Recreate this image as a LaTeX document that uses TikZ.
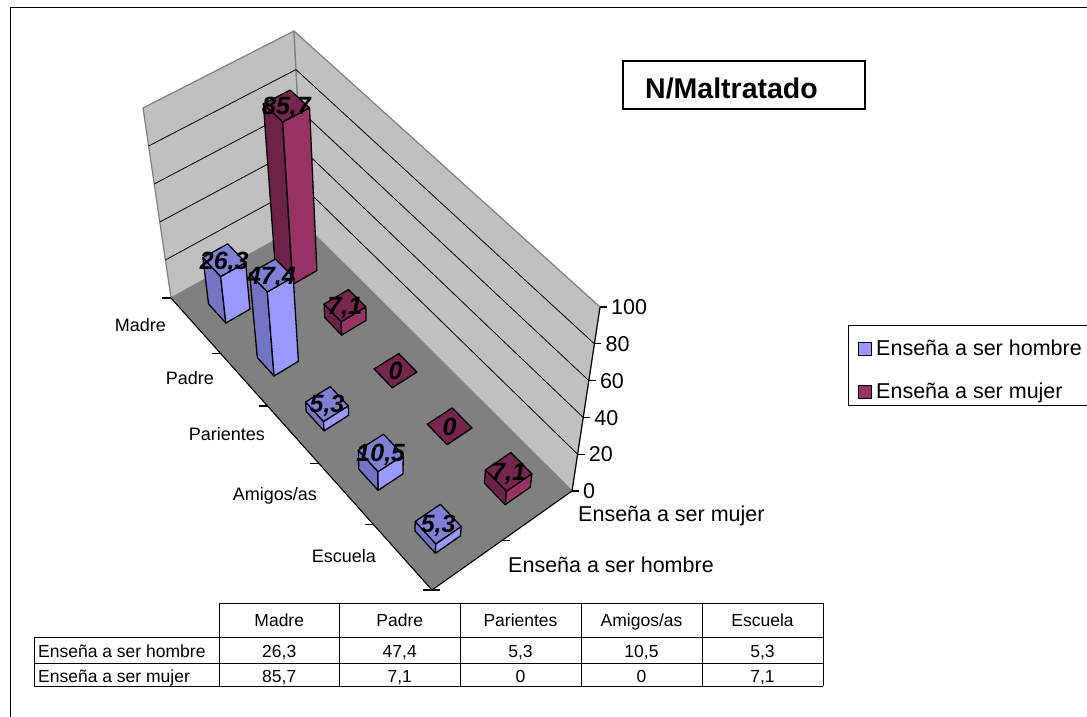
\documentclass[tikz,border=0pt]{standalone}
\usepackage{fontspec}
\setmainfont{Liberation Sans}
\usetikzlibrary{calc}
\definecolor{wallc}{RGB}{192,192,192}
\definecolor{floorc}{RGB}{128,128,128}
\definecolor{edgec}{RGB}{128,128,128}
\definecolor{hR}{HTML}{9999FF}
\definecolor{hT}{HTML}{8080D6}
\definecolor{hL}{HTML}{7474C4}
\definecolor{mR}{HTML}{993366}
\definecolor{mT}{HTML}{76254F}
\definecolor{mL}{HTML}{6E2149}
\newcommand\axfont{\fontsize{21.5}{24}\selectfont}
\newcommand\catfont{\fontsize{18}{21}\selectfont}
\newcommand\tabfont{\fontsize{17.5}{20}\selectfont}
\newcommand\valfont{\fontsize{25}{28}\selectfont\bfseries\itshape}
\newcommand\fpt[3]{%
  \coordinate (fpA) at ($(L)!#2!(Bt)$);
  \coordinate (fpB) at ($(K)!#2!(R)$);
  \coordinate (#1) at ($(fpA)!#3!(fpB)$);
}
\newcommand\drawbox[7]{%
  \pgfmathsetmacro\ua{#1-#2}\pgfmathsetmacro\ub{#1+#2}%
  \pgfmathsetmacro\va{#3-0.09}\pgfmathsetmacro\vb{#3+0.09}%
  \fpt{bl}{\ua}{\va}
  \fpt{bf}{\ub}{\va}
  \fpt{br}{\ub}{\vb}
  \fpt{bk}{\ua}{\vb}
  \coordinate (tl) at ($(bl)!-#4pt!(VP)$);
  \coordinate (tf) at ($(bf)!-#4pt!(VP)$);
  \coordinate (tr) at ($(br)!-#4pt!(VP)$);
  \coordinate (tk) at ($(bk)!-#4pt!(VP)$);
  \filldraw[barline, fill=#5L] (bl)--(bf)--(tf)--(tl)--cycle;
  \filldraw[barline, fill=#5R] (bf)--(br)--(tr)--(tf)--cycle;
  \filldraw[barline, fill=#5T] (tl)--(tf)--(tr)--(tk)--cycle;
  \coordinate (#7) at ($(tl)!0.5!(tr)$);
}
\tikzset{
  barline/.style={draw=black, line width=1.3pt, line join=round},
  walledge/.style={draw=edgec, line width=1.2pt},
  gridln/.style={draw=black, line width=0.8pt},
  axisln/.style={draw=black, line width=1.1pt},
  tabln/.style={draw=black, line width=0.9pt},
  vallab/.style={font=\valfont, inner sep=0pt, text height=18pt, text depth=0pt},
  catlab/.style={font=\catfont, anchor=base east, inner sep=0pt},
  axlab/.style={font=\axfont, anchor=base west, inner sep=0pt},
  tabtxt/.style={font=\tabfont, inner sep=0pt, text height=13pt, text depth=4pt}
}
\begin{document}
\begin{tikzpicture}[x=1pt,y=-1pt]
\useasboundingbox (0,0) rectangle (1087,717);
\fill[white] (0,0) rectangle (1087,717);
% outer frame
\draw[line width=1pt] (10,717) -- (10,8) -- (1087,8);
% key points
\coordinate (L) at (171,298);
\coordinate (Bt) at (432,590);
\coordinate (R) at (572,491);
\coordinate (K) at (304,224);
\coordinate (LT) at (143,108);
\coordinate (KT) at (294,31);
\coordinate (RT) at (600,307);
\coordinate (VP) at (383,1736);
% walls
\filldraw[fill=wallc, walledge, line join=round] (L) -- (K) -- (KT) -- (LT) -- cycle;
\filldraw[fill=wallc, walledge, line join=round] (K) -- (R) -- (RT) -- (KT) -- cycle;
\foreach \k in {1,...,4} {
  \draw[gridln] ($(L)!\k/5!(LT)$) -- ($(K)!\k/5!(KT)$);
  \draw[gridln] ($(K)!\k/5!(KT)$) -- ($(R)!\k/5!(RT)$);
}
% floor
\fill[floorc] (L) -- (Bt) -- (R) -- (K) -- cycle;
% axes
\draw[axisln] (L) -- (Bt) -- (R) -- (RT);
\foreach \t in {0,0.19,0.37,0.567,0.777,1}
  \draw[axisln] ($(L)!\t!(Bt)$) -- ++(-9,0);
\foreach \t in {0,0.5}
  \draw[axisln] ($(Bt)!\t!(R)$) -- ++(8,0);
\foreach \k/\lab in {0/0,1/20,2/40,3/60,4/80,5/100} {
  \draw[axisln] ($(R)!\k/5!(RT)$) coordinate (vt\k) -- ++(7,0);
  \node[axlab] (vl\k) at ($(vt\k)+(11,7.7)$) {\lab};
}
% category labels
\node[catlab] (cMadre) at (166,331.5) {Madre};
\node[catlab] (cPadre) at (214,384.5) {Padre};
\node[catlab] (cPar) at (265,440.5) {Parientes};
\node[catlab] (cAmi) at (317,500.5) {Amigos/as};
\node[catlab] (cEsc) at (376,562.5) {Escuela};
% series labels
\node[axlab] (sMujer) at (578,521.5) {Enseña a ser mujer};
\node[axlab] (sHombre) at (508,572.5) {Enseña a ser hombre};
% bars: mujer (back row)
\drawbox{0.095}{0.033}{0.75}{162.8}{m}{85,7}{lm1}
\drawbox{0.28}{0.032}{0.75}{13.5}{m}{7,1}{lm2}
\drawbox{0.4685}{0.034}{0.75}{0}{m}{0}{lm3}
\drawbox{0.672}{0.037}{0.75}{0}{m}{0}{lm4}
\drawbox{0.8885}{0.039}{0.75}{13.5}{m}{7,1}{lm5}
% bars: hombre (front row)
\drawbox{0.095}{0.033}{0.25}{46.8}{h}{26,3}{lh1}
\drawbox{0.28}{0.032}{0.25}{84.4}{h}{47,4}{lh2}
\drawbox{0.4685}{0.034}{0.25}{9.4}{h}{5,3}{lh3}
\drawbox{0.672}{0.037}{0.25}{18.7}{h}{10,5}{lh4}
\drawbox{0.8885}{0.039}{0.25}{9.4}{h}{5,3}{lh5}
% value labels
\node[vallab] (v1) at (lm1) {85,7};
\node[vallab] (v2) at (lm2) {7,1};
\node[vallab] (v3) at (lm3) {0};
\node[vallab] (v4) at (lm4) {0};
\node[vallab] (v5) at (lm5) {7,1};
\node[vallab] (v6) at (lh1) {26,3};
\node[vallab] (v7) at (lh2) {47,4};
\node[vallab] (v8) at (lh3) {5,3};
\node[vallab] (v9) at (lh4) {10,5};
\node[vallab] (v10) at (lh5) {5,3};
% title
\draw[line width=1.4pt] (623,61) rectangle (865,109);
\node[anchor=base west, inner sep=0pt, font=\fontsize{28.5}{32}\selectfont\bfseries] (title) at (645,99) {N/Maltratado};
% legend
\draw[line width=1pt] (848,325) rectangle (1095,405);
\node[draw=black, fill=hR, minimum size=13pt, inner sep=0pt, line width=1pt] (lgh) at (864.5,349) {};
\node[draw=black, fill=mR, minimum size=13pt, inner sep=0pt, line width=1pt] (lgm) at (864.5,391.5) {};
\node[axlab] (lgth) at (876,355) {Enseña a ser hombre};
\node[axlab] (lgtm) at (876,398) {Enseña a ser mujer};
% table
\draw[tabln] (219,603) -- (823,603);
\foreach \y in {637,663.5,686} \draw[tabln] (34,\y) -- (823,\y);
\draw[tabln] (34,637) -- (34,686);
\foreach \x in {219,339.5,460,581,702,823} \draw[tabln] (\x,603) -- (\x,686);
\foreach \x/\t [count=\i] in {279.25/Madre,399.75/Padre,520.5/Parientes,641.5/Amigos\slash as,762.5/Escuela}
  \node[tabtxt] (th\i) at (\x,621.5) {\t};
\foreach \x/\t [count=\i] in {279.25/{26,3},399.75/{47,4},520.5/{5,3},641.5/{10,5},762.5/{5,3}}
  \node[tabtxt] (tr1\i) at (\x,652.5) {\t};
\foreach \x/\t [count=\i] in {279.25/{85,7},399.75/{7,1},520.5/0,641.5/0,762.5/{7,1}}
  \node[tabtxt] (tr2\i) at (\x,677.5) {\t};
\node[tabtxt, anchor=west] (rl1) at (38,652.5) {Enseña a ser hombre};
\node[tabtxt, anchor=west] (rl2) at (38,677.5) {Enseña a ser mujer};
\end{tikzpicture}
\end{document}
